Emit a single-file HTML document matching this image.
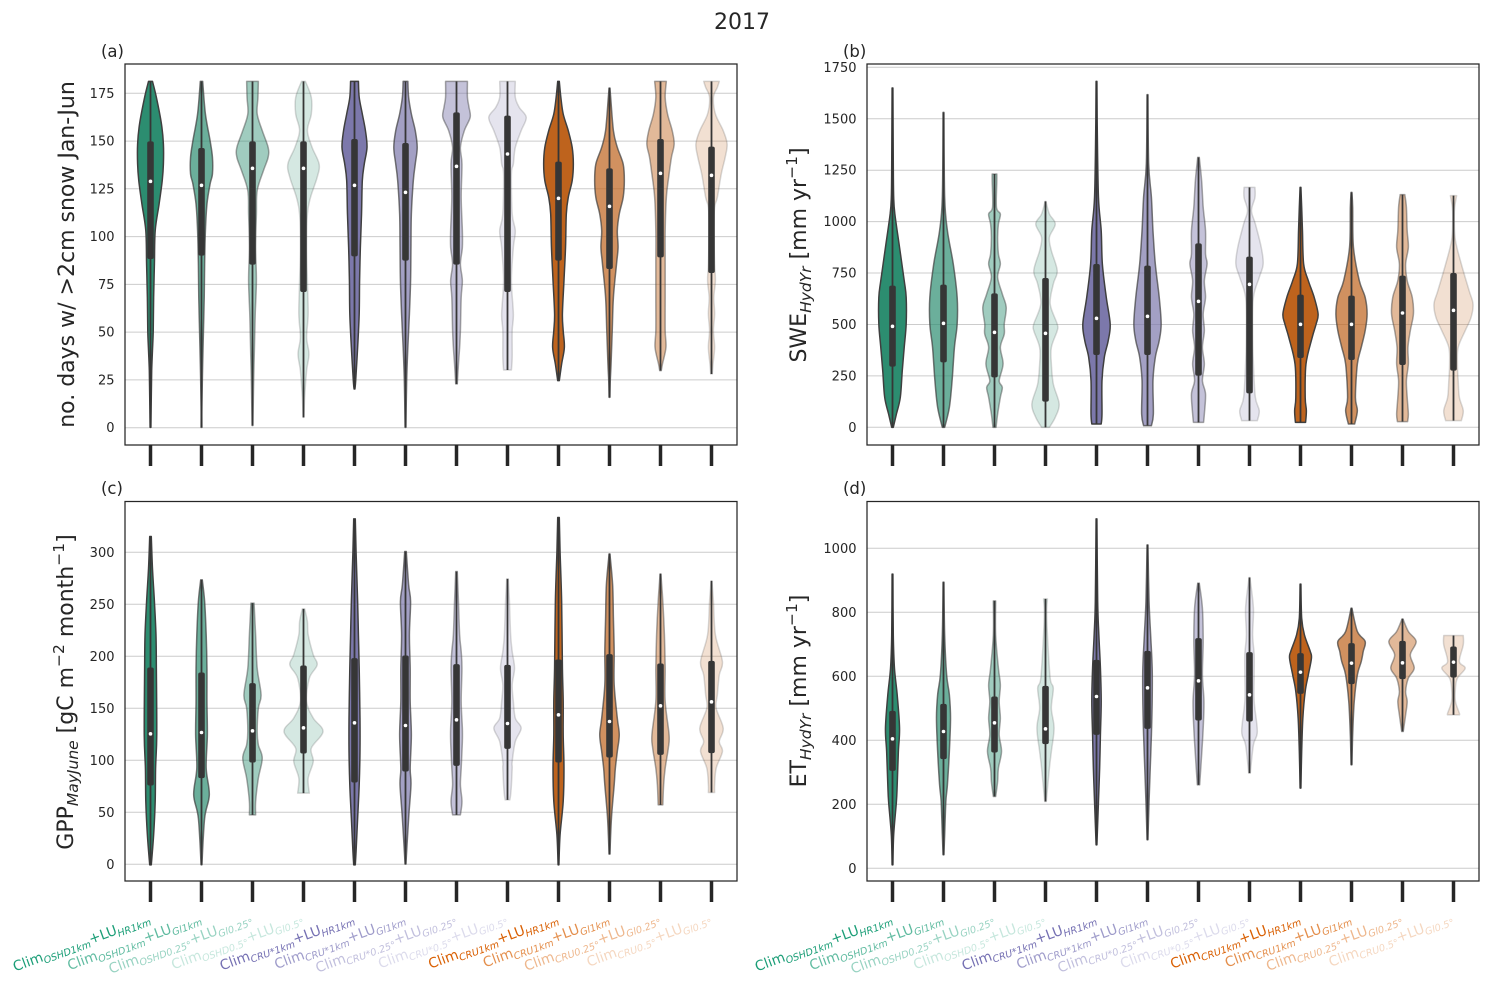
<!DOCTYPE html>
<html><head><meta charset="utf-8">
<style>
body{margin:0;background:#fff}
svg{display:block}
text{font-family:"DejaVu Sans","Liberation Sans",sans-serif}
</style></head>
<body>
<svg id="s" width="1493" height="985" xmlns="http://www.w3.org/2000/svg">
<rect width="1493" height="985" fill="#fff"/>
<g id="grid"></g>
<g id="vio"></g>
<g id="axes"></g>
<g fill="#262626">
<text x="742" y="29" font-size="22" text-anchor="middle">2017</text>
<text x="101" y="57" font-size="16.5">(a)</text>
<text x="843" y="57" font-size="16.5">(b)</text>
<text x="101" y="494" font-size="16.5">(c)</text>
<text x="843" y="494" font-size="16.5">(d)</text>
</g>
<g fill="#262626" font-size="13" text-anchor="end">
<text x="114.5" y="432.2">0</text><text x="114.5" y="384.4">25</text><text x="114.5" y="336.6">50</text><text x="114.5" y="288.9">75</text><text x="114.5" y="241.1">100</text><text x="114.5" y="193.3">125</text><text x="114.5" y="145.6">150</text><text x="114.5" y="97.8">175</text>
<text x="856.5" y="431.8">0</text><text x="856.5" y="380.4">250</text><text x="856.5" y="329">500</text><text x="856.5" y="277.5">750</text><text x="856.5" y="226.1">1000</text><text x="856.5" y="174.7">1250</text><text x="856.5" y="123.3">1500</text><text x="856.5" y="71.8">1750</text>
<text x="114.5" y="868.8">0</text><text x="114.5" y="816.8">50</text><text x="114.5" y="764.8">100</text><text x="114.5" y="712.8">150</text><text x="114.5" y="660.8">200</text><text x="114.5" y="608.8">250</text><text x="114.5" y="556.8">300</text>
<text x="856.5" y="872.8">0</text><text x="856.5" y="808.8">200</text><text x="856.5" y="744.8">400</text><text x="856.5" y="680.8">600</text><text x="856.5" y="616.8">800</text><text x="856.5" y="552.8">1000</text>
</g>
<g fill="#262626" font-size="22" text-anchor="middle">
<text transform="translate(74,254.5) rotate(-90)">no. days w/ &gt;2cm snow Jan-Jun</text>
<text transform="translate(806,255) rotate(-90)">SWE<tspan font-size="15.5" font-style="italic" dy="5">HydYr</tspan><tspan dy="-5"> [mm yr</tspan><tspan font-size="15.5" dy="-9">−1</tspan><tspan dy="9">]</tspan></text>
<text transform="translate(73,692) rotate(-90)">GPP<tspan font-size="15.5" font-style="italic" dy="5">MayJune</tspan><tspan dy="-5"> [gC m</tspan><tspan font-size="15.5" dy="-9">−2</tspan><tspan dy="9"> month</tspan><tspan font-size="15.5" dy="-9">−1</tspan><tspan dy="9">]</tspan></text>
<text transform="translate(806,691) rotate(-90)">ET<tspan font-size="15.5" font-style="italic" dy="5">HydYr</tspan><tspan dy="-5"> [mm yr</tspan><tspan font-size="15.5" dy="-9">−1</tspan><tspan dy="9">]</tspan></text>
</g>
<!-- x tick labels panel c -->
<g font-size="13.9" text-anchor="end">
<text transform="translate(151,922) rotate(-20)" fill="#1b9e77">Clim<tspan font-size="9.7" font-style="italic" dy="3">OSHD1km</tspan><tspan dy="-3">+LU</tspan><tspan font-size="9.7" font-style="italic" dy="3">HR1km</tspan></text>
<text transform="translate(202,922) rotate(-20)" fill="#1b9e77" fill-opacity="0.7">Clim<tspan font-size="9.7" font-style="italic" dy="3">OSHD1km</tspan><tspan dy="-3">+LU</tspan><tspan font-size="9.7" font-style="italic" dy="3">Gl1km</tspan></text>
<text transform="translate(253,922) rotate(-20)" fill="#1b9e77" fill-opacity="0.45">Clim<tspan font-size="9.7" font-style="italic" dy="3">OSHD0.25°</tspan><tspan dy="-3">+LU</tspan><tspan font-size="9.7" font-style="italic" dy="3">Gl0.25°</tspan></text>
<text transform="translate(304,922) rotate(-20)" fill="#1b9e77" fill-opacity="0.25">Clim<tspan font-size="9.7" font-style="italic" dy="3">OSHD0.5°</tspan><tspan dy="-3">+LU</tspan><tspan font-size="9.7" font-style="italic" dy="3">Gl0.5°</tspan></text>
<text transform="translate(355,922) rotate(-20)" fill="#7570b3">Clim<tspan font-size="9.7" font-style="italic" dy="3">CRU*1km</tspan><tspan dy="-3">+LU</tspan><tspan font-size="9.7" font-style="italic" dy="3">HR1km</tspan></text>
<text transform="translate(406,922) rotate(-20)" fill="#7570b3" fill-opacity="0.7">Clim<tspan font-size="9.7" font-style="italic" dy="3">CRU*1km</tspan><tspan dy="-3">+LU</tspan><tspan font-size="9.7" font-style="italic" dy="3">Gl1km</tspan></text>
<text transform="translate(457,922) rotate(-20)" fill="#7570b3" fill-opacity="0.45">Clim<tspan font-size="9.7" font-style="italic" dy="3">CRU*0.25°</tspan><tspan dy="-3">+LU</tspan><tspan font-size="9.7" font-style="italic" dy="3">Gl0.25°</tspan></text>
<text transform="translate(508,922) rotate(-20)" fill="#7570b3" fill-opacity="0.25">Clim<tspan font-size="9.7" font-style="italic" dy="3">CRU*0.5°</tspan><tspan dy="-3">+LU</tspan><tspan font-size="9.7" font-style="italic" dy="3">Gl0.5°</tspan></text>
<text transform="translate(559,922) rotate(-20)" fill="#d95f02">Clim<tspan font-size="9.7" font-style="italic" dy="3">CRU1km</tspan><tspan dy="-3">+LU</tspan><tspan font-size="9.7" font-style="italic" dy="3">HR1km</tspan></text>
<text transform="translate(610,922) rotate(-20)" fill="#d95f02" fill-opacity="0.7">Clim<tspan font-size="9.7" font-style="italic" dy="3">CRU1km</tspan><tspan dy="-3">+LU</tspan><tspan font-size="9.7" font-style="italic" dy="3">Gl1km</tspan></text>
<text transform="translate(661,922) rotate(-20)" fill="#d95f02" fill-opacity="0.45">Clim<tspan font-size="9.7" font-style="italic" dy="3">CRU0.25°</tspan><tspan dy="-3">+LU</tspan><tspan font-size="9.7" font-style="italic" dy="3">Gl0.25°</tspan></text>
<text transform="translate(712,922) rotate(-20)" fill="#d95f02" fill-opacity="0.25">Clim<tspan font-size="9.7" font-style="italic" dy="3">CRU0.5°</tspan><tspan dy="-3">+LU</tspan><tspan font-size="9.7" font-style="italic" dy="3">Gl0.5°</tspan></text>
</g>
<!-- x tick labels panel d -->
<g font-size="13.9" text-anchor="end">
<text transform="translate(893,922) rotate(-20)" fill="#1b9e77">Clim<tspan font-size="9.7" font-style="italic" dy="3">OSHD1km</tspan><tspan dy="-3">+LU</tspan><tspan font-size="9.7" font-style="italic" dy="3">HR1km</tspan></text>
<text transform="translate(944,922) rotate(-20)" fill="#1b9e77" fill-opacity="0.7">Clim<tspan font-size="9.7" font-style="italic" dy="3">OSHD1km</tspan><tspan dy="-3">+LU</tspan><tspan font-size="9.7" font-style="italic" dy="3">Gl1km</tspan></text>
<text transform="translate(995,922) rotate(-20)" fill="#1b9e77" fill-opacity="0.45">Clim<tspan font-size="9.7" font-style="italic" dy="3">OSHD0.25°</tspan><tspan dy="-3">+LU</tspan><tspan font-size="9.7" font-style="italic" dy="3">Gl0.25°</tspan></text>
<text transform="translate(1046,922) rotate(-20)" fill="#1b9e77" fill-opacity="0.25">Clim<tspan font-size="9.7" font-style="italic" dy="3">OSHD0.5°</tspan><tspan dy="-3">+LU</tspan><tspan font-size="9.7" font-style="italic" dy="3">Gl0.5°</tspan></text>
<text transform="translate(1097,922) rotate(-20)" fill="#7570b3">Clim<tspan font-size="9.7" font-style="italic" dy="3">CRU*1km</tspan><tspan dy="-3">+LU</tspan><tspan font-size="9.7" font-style="italic" dy="3">HR1km</tspan></text>
<text transform="translate(1148,922) rotate(-20)" fill="#7570b3" fill-opacity="0.7">Clim<tspan font-size="9.7" font-style="italic" dy="3">CRU*1km</tspan><tspan dy="-3">+LU</tspan><tspan font-size="9.7" font-style="italic" dy="3">Gl1km</tspan></text>
<text transform="translate(1199,922) rotate(-20)" fill="#7570b3" fill-opacity="0.45">Clim<tspan font-size="9.7" font-style="italic" dy="3">CRU*0.25°</tspan><tspan dy="-3">+LU</tspan><tspan font-size="9.7" font-style="italic" dy="3">Gl0.25°</tspan></text>
<text transform="translate(1250,922) rotate(-20)" fill="#7570b3" fill-opacity="0.25">Clim<tspan font-size="9.7" font-style="italic" dy="3">CRU*0.5°</tspan><tspan dy="-3">+LU</tspan><tspan font-size="9.7" font-style="italic" dy="3">Gl0.5°</tspan></text>
<text transform="translate(1301,922) rotate(-20)" fill="#d95f02">Clim<tspan font-size="9.7" font-style="italic" dy="3">CRU1km</tspan><tspan dy="-3">+LU</tspan><tspan font-size="9.7" font-style="italic" dy="3">HR1km</tspan></text>
<text transform="translate(1352,922) rotate(-20)" fill="#d95f02" fill-opacity="0.7">Clim<tspan font-size="9.7" font-style="italic" dy="3">CRU1km</tspan><tspan dy="-3">+LU</tspan><tspan font-size="9.7" font-style="italic" dy="3">Gl1km</tspan></text>
<text transform="translate(1403,922) rotate(-20)" fill="#d95f02" fill-opacity="0.45">Clim<tspan font-size="9.7" font-style="italic" dy="3">CRU0.25°</tspan><tspan dy="-3">+LU</tspan><tspan font-size="9.7" font-style="italic" dy="3">Gl0.25°</tspan></text>
<text transform="translate(1454,922) rotate(-20)" fill="#d95f02" fill-opacity="0.25">Clim<tspan font-size="9.7" font-style="italic" dy="3">CRU0.5°</tspan><tspan dy="-3">+LU</tspan><tspan font-size="9.7" font-style="italic" dy="3">Gl0.5°</tspan></text>
</g>
</svg>
<script>
(function(){
var NS="http://www.w3.org/2000/svg";
function el(p,t,a){var e=document.createElementNS(NS,t);for(var k in a)e.setAttribute(k,a[k]);p.appendChild(e);return e;}
var G=document.getElementById("grid"),V=document.getElementById("vio"),A=document.getElementById("axes");
var fills=["#2c8d70","#7c78ab","#be631d"],alphas=[1,0.7,0.45,0.2];
var panels=[
{x0:125,y0:64,y1:445,grid:[427.7,379.9,332.1,284.4,236.6,188.8,141.1,93.3],v:[
[[[52,5],[100,15],[180,28],[240,33],[300,33],[350,30],[420,22],[500,12],[600,10],[700,8],[800,7],[860,5],[920,3],[1000,2],[1090,1]],232,585,352],
[[[52,3],[150,10],[230,22],[280,28],[330,28],[360,22],[420,14],[500,10],[600,8],[700,7],[800,5],[900,3],[1030,1],[1090,1]],252,575,364],
[[[52,15],[100,14],[150,12],[200,25],[250,40],[280,40],[320,28],[380,12],[450,10],[550,8],[650,10],[750,7],[850,5],[950,3],[1085,1]],232,602,313],
[[[52,5],[100,20],[150,20],[200,10],[250,22],[300,40],[340,35],[400,18],[450,10],[550,8],[650,10],[750,12],[820,8],[870,14],[920,8],[1000,3],[1060,1]],232,684,313],
[[[52,10],[100,12],[150,20],[200,28],[250,32],[300,25],[350,20],[450,18],[550,15],[650,13],[750,12],[850,8],[950,3],[975,1]],225,577,364],
[[[52,6],[100,8],[150,15],[200,25],[250,30],[300,25],[350,20],[450,15],[550,14],[650,13],[750,10],[850,6],[950,3],[1090,1]],237,590,385],
[[[52,28],[100,28],[130,32],[160,35],[200,20],[250,10],[300,14],[400,12],[500,15],[550,15],[600,10],[650,15],[700,12],[800,10],[850,8],[900,5],[960,2]],145,602,307],
[[[52,20],[100,20],[130,30],[160,48],[200,35],[250,20],[300,15],[330,10],[450,12],[500,20],[550,15],[650,10],[750,15],[800,12],[880,12],[918,10]],155,684,270],
[[[52,2],[100,6],[150,12],[200,25],[250,35],[300,38],[350,35],[400,25],[450,20],[550,18],[650,14],[750,10],[800,12],[850,15],[900,8],[950,2]],293,590,403],
[[[72,1],[100,3],[200,10],[250,20],[300,35],[350,38],[400,35],[450,25],[500,20],[550,22],[600,18],[700,10],[800,7],[900,4],[950,2],[1000,1]],313,615,427],
[[[52,15],[100,12],[150,18],[200,30],[240,35],[280,28],[330,22],[400,15],[500,12],[600,12],[700,12],[800,12],[850,14],[900,5],[920,2]],225,580,328],
[[[52,20],[70,15],[100,5],[150,10],[200,30],[240,40],[280,35],[330,25],[400,15],[430,8],[500,6],[600,8],[650,10],[700,6],[750,8],[800,5],[850,8],[900,4],[930,2]],248,627,334]
]},
{x0:867,y0:64,y1:445,grid:[427.3,375.9,324.5,273.0,221.6,170.2,118.8,67.3],v:[
[[[72,1],[300,2],[400,3],[450,6],[550,18],[650,30],[700,35],[780,35],[850,30],[920,25],[1000,20],[1050,10],[1090,2]],665,908,787],
[[[145,1],[400,3],[500,10],[600,25],[700,35],[780,35],[850,28],[950,22],[1030,15],[1090,3]],662,895,778],
[[[330,6],[350,6],[430,5],[450,15],[480,10],[520,8],[570,10],[600,15],[640,8],[690,20],[730,30],[780,25],[810,25],[850,15],[900,22],[950,12],[970,20],[1000,15],[1050,8],[1090,4]],688,940,805],
[[[412,1],[450,10],[480,25],[520,10],[560,15],[620,30],[660,20],[720,12],[780,30],[800,30],[850,15],[900,15],[960,20],[1020,35],[1060,25],[1090,10]],642,1013,808],
[[[52,1],[200,2],[400,5],[500,12],[600,15],[700,25],[780,35],[830,30],[880,20],[950,14],[1050,14],[1080,12]],600,873,763],
[[[92,1],[300,3],[400,10],[500,14],[600,20],[700,30],[780,35],[830,30],[880,20],[950,14],[1050,15],[1085,10]],605,873,757],
[[[280,2],[350,8],[430,12],[500,18],[570,18],[600,22],[650,15],[700,18],[750,12],[800,15],[850,10],[900,15],[950,10],[990,18],[1050,15],[1075,13]],538,935,712],
[[[370,14],[400,14],[440,5],[480,15],[550,30],[600,35],[640,25],[700,10],[800,8],[900,10],[1000,15],[1040,25],[1070,20]],578,988,661],
[[[370,1],[430,3],[500,5],[600,8],[650,20],[700,35],[750,45],[780,40],[820,30],[900,14],[1000,12],[1040,15],[1075,13]],692,882,781],
[[[385,1],[430,3],[550,5],[650,20],[700,35],[750,40],[800,35],[850,25],[900,15],[1000,10],[1040,15],[1080,8]],695,888,781],
[[[392,6],[430,10],[500,12],[550,15],[600,8],[650,12],[700,25],[750,28],[800,20],[850,14],[900,15],[950,10],[1000,12],[1050,15],[1073,13]],635,903,747],
[[[395,8],[430,3],[470,2],[530,5],[600,20],[680,40],[720,50],[760,45],[800,30],[850,12],[900,10],[950,12],[1000,15],[1040,25],[1070,20]],627,920,739]
]},
{x0:125,y0:501.5,y1:881,grid:[864.3,812.3,760.3,708.3,656.3,604.3,552.3],v:[
[[[105,2],[200,5],[300,10],[400,14],[500,15],[700,16],[800,13],[900,12],[1000,8],[1090,2]],498,852,697],
[[[235,2],[300,8],[400,12],[500,14],[600,14],[700,15],[800,12],[880,20],[950,8],[1090,1]],513,830,693],
[[[305,4],[400,8],[500,12],[580,22],[620,15],[690,12],[730,15],[770,25],[830,15],[900,8],[940,8]],545,783,688],
[[[322,3],[360,10],[400,12],[460,25],[490,35],[530,15],[600,8],[650,25],[690,50],[740,20],[780,25],[830,12],[875,15]],492,756,679],
[[[52,2],[150,4],[300,8],[400,10],[500,12],[650,14],[750,14],[850,12],[950,8],[1050,4],[1090,2]],470,843,664],
[[[150,2],[250,8],[300,13],[400,10],[500,12],[600,12],[700,15],[800,12],[850,14],[950,8],[1088,1]],462,810,672],
[[[210,2],[300,5],[400,8],[450,12],[500,14],[600,12],[680,15],[720,15],[800,12],[850,10],[900,14],[940,10]],488,793,655],
[[[232,2],[300,5],[400,8],[450,12],[500,18],[550,12],[600,15],[650,20],[680,35],[720,20],[780,12],[800,12],[850,10],[880,8],[895,6]],490,742,666],
[[[48,2],[150,4],[300,8],[500,10],[600,12],[700,12],[800,14],[900,12],[1000,4],[1090,1]],474,783,640],
[[[157,1],[250,8],[350,10],[450,12],[550,12],[650,20],[700,25],[750,20],[800,15],[850,12],[950,5],[1058,1]],458,768,660],
[[[217,1],[300,6],[400,10],[500,12],[600,12],[700,22],[740,20],[800,12],[850,8],[910,6]],486,760,613],
[[[238,1],[300,5],[400,10],[480,28],[520,20],[580,15],[620,12],[680,30],[720,20],[750,28],[800,12],[850,8],[873,8]],478,755,601]
]},
{x0:867,y0:501.5,y1:881,grid:[868.3,804.3,740.3,676.3,612.3,548.3],v:[
[[[218,1],[400,2],[500,5],[580,12],[680,18],[750,15],[850,12],[900,10],[1000,3],[1090,1]],628,808,712],
[[[242,1],[400,3],[520,8],[580,15],[650,18],[750,15],[850,10],[900,6],[1000,3],[1060,1]],607,773,690],
[[[298,3],[400,3],[500,10],[550,15],[600,12],[650,15],[700,12],[750,18],[800,10],[840,8],[885,3]],585,753,664],
[[[292,5],[330,3],[400,5],[530,12],[560,20],[620,15],[680,22],[750,15],[800,10],[900,2]],553,728,682],
[[[52,1],[300,3],[400,6],[500,10],[600,12],[700,10],[800,8],[900,5],[1030,1]],475,700,585],
[[[130,1],[300,4],[400,8],[500,12],[600,12],[700,10],[800,7],[900,4],[1015,1]],448,682,559],
[[[245,2],[320,10],[420,12],[520,10],[600,14],[680,12],[760,8],[850,3]],410,657,538],
[[[228,1],[320,10],[400,8],[460,12],[520,12],[600,12],[690,20],[730,10],[815,2]],452,660,580],
[[[248,1],[350,3],[400,10],[450,25],[470,28],[520,20],[570,12],[650,6],[750,3],[860,1]],455,577,512],
[[[320,1],[390,15],[420,35],[450,30],[480,25],[520,15],[600,7],[700,3],[790,1]],425,548,485],
[[[352,1],[390,15],[420,35],[460,20],[500,30],[530,15],[570,8],[600,12],[640,8],[690,2]],418,533,484],
[[[402,25],[430,25],[480,15],[500,30],[530,10],[560,5],[600,5],[635,15],[640,15]],435,528,482]
]}
];
function smooth(pts){ // pts array [x,y], returns path segments (catmull-rom)
  var d="";
  for(var i=0;i<pts.length-1;i++){
    var p0=pts[i-1]||pts[i],p1=pts[i],p2=pts[i+1],p3=pts[i+2]||p2;
    var c1x=p1[0]+(p2[0]-p0[0])/6,c1y=p1[1]+(p2[1]-p0[1])/6;
    var c2x=p2[0]-(p3[0]-p1[0])/6,c2y=p2[1]-(p3[1]-p1[1])/6;
    d+=" C"+c1x.toFixed(2)+","+c1y.toFixed(2)+" "+c2x.toFixed(2)+","+c2y.toFixed(2)+" "+p2[0].toFixed(2)+","+p2[1].toFixed(2);
  }
  return d;
}
panels.forEach(function(P){
  P.grid.forEach(function(y){el(G,"line",{x1:P.x0,x2:P.x0+612,y1:y,y2:y,stroke:"#cccccc","stroke-width":1});});
  P.v.forEach(function(v,i){
    var cx=P.x0+25.5+i*51,g=Math.floor(i/4),a=alphas[i%4];
    var prof=v[0].map(function(p){return [P.y0+p[0]/3,p[1]/2.56];});
    var R=prof.map(function(p){return [cx+p[1],p[0]];});
    var L=prof.slice().reverse().map(function(p){return [cx-p[1],p[0]];});
    var d="M"+R[0][0].toFixed(2)+","+R[0][1].toFixed(2)+smooth(R)+" L"+L[0][0].toFixed(2)+","+L[0][1].toFixed(2)+smooth(L)+" Z";
    el(V,"path",{d:d,fill:fills[g],"fill-opacity":a,stroke:"#3f3f3f","stroke-opacity":a,"stroke-width":1.5,"stroke-linejoin":"round"});
    var top=prof[0][0],bot=prof[prof.length-1][0];
    el(V,"line",{x1:cx,x2:cx,y1:top,y2:bot,stroke:"#363636","stroke-width":1.8});
    var q3=P.y0+v[1]/3,q1=P.y0+v[2]/3,md=P.y0+v[3]/3;
    el(V,"rect",{x:cx-3.3,y:q3,width:6.6,height:q1-q3,rx:2,fill:"#363636"});
    el(V,"circle",{cx:cx,cy:md,r:1.8,fill:"#ffffff"});
  });
  el(A,"rect",{x:P.x0,y:P.y0,width:612,height:P.y1-P.y0,fill:"none",stroke:"#262626","stroke-width":1.25});
  for(var i=0;i<12;i++){var cx=P.x0+25.5+i*51;el(A,"line",{x1:cx,x2:cx,y1:P.y1,y2:P.y1+21,stroke:"#262626","stroke-width":3.5});}
});
})();
</script>
</body></html>
